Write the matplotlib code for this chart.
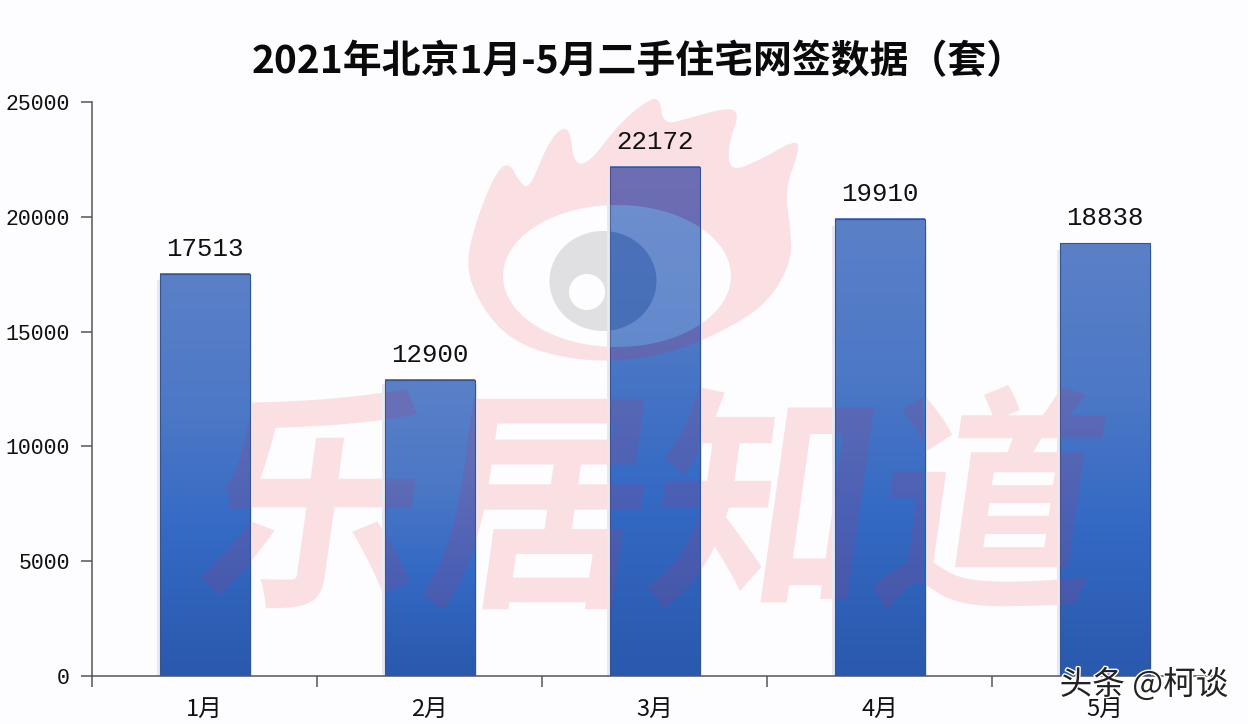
import numpy as np
import matplotlib
matplotlib.use("Agg")
import matplotlib.pyplot as plt
from matplotlib.colors import LinearSegmentedColormap
from matplotlib.font_manager import FontProperties
from matplotlib.patches import Polygon, Ellipse, Circle, PathPatch
from matplotlib.path import Path
from matplotlib.textpath import TextPath
from matplotlib.transforms import Affine2D
import matplotlib.patheffects as pe

months = ["1月", "2月", "3月", "4月", "5月"]
values = [17513, 12900, 22172, 19910, 18838]
y_ticks = [0, 5000, 10000, 15000, 20000, 25000]
title = "2021年北京1月-5月二手住宅网签数据（套）"

W, H = 1248, 724
CJK = ["Noto Sans CJK SC", "DejaVu Sans"]
MONO = "Liberation Mono"
BG = "#fdfcfe"
PINK = "#fae0e3"
TINT = "#a83a78"

fig = plt.figure(figsize=(W / 100, H / 100), dpi=100, facecolor=BG)
ax = fig.add_axes([92 / W, 1 - 676 / H, 1125 / W, 574 / H], facecolor="none")
px = Affine2D().scale(1 / W, -1 / H).translate(0, 1) + fig.transFigure

# ---- logo outline (watermark artwork, in picture pixels)
flame = np.array([(465, 265), (478, 215), (497, 170), (510, 163), (518, 180), (529, 190), (545, 150),
                  (558, 130), (570, 128), (574, 165), (590, 162), (618, 125), (645, 102), (660, 97),
                  (663, 125), (690, 118), (725, 108), (740, 112), (728, 145), (730, 172), (760, 160),
                  (795, 140), (800, 148), (785, 190), (790, 225), (792, 260), (770, 300), (735, 325),
                  (680, 350), (620, 362), (560, 358), (510, 340), (480, 305)], float)
for _ in range(2):
    nxt = np.roll(flame, -1, axis=0)
    flame = np.column_stack([0.75 * flame + 0.25 * nxt, 0.25 * flame + 0.75 * nxt]).reshape(-1, 2)
t = np.linspace(2 * np.pi, 0, 90)
eye = np.column_stack([617 + 114 * np.cos(t), 276 + 71 * np.sin(t)])
verts = np.vstack([flame, flame[:1], eye])
codes = ([Path.MOVETO] + [Path.LINETO] * (len(flame) - 1) + [Path.CLOSEPOLY]
         + [Path.MOVETO] + [Path.LINETO] * (len(eye) - 1))
ring = Path(verts, codes)

ax.add_patch(PathPatch(ring, fc=PINK, ec="none", transform=px, zorder=0.5, clip_on=False))
ax.add_patch(Ellipse((603, 281), 107, 100, fc="#e0e0e3", ec="none", transform=px, zorder=0.7, clip_on=False))
ax.add_patch(Circle((587, 292), 18, fc=BG, ec="none", transform=px, zorder=0.8, clip_on=False))

# ---- slanted word watermark, fitted to its box in the picture
tp = TextPath((0, 0), "乐居知道", size=100,
              prop=FontProperties(family="Noto Sans CJK SC", weight="bold"))
bb = tp.get_extents()
word_tf = (Affine2D().translate(-bb.x0, -bb.y0).scale(888 / bb.width, 225 / bb.height)
           .skew_deg(8, 0).translate(195, -610).scale(1, -1))
word = word_tf.transform_path(tp)
ax.add_patch(PathPatch(word, fc=PINK, ec="none", transform=px, zorder=0.4, clip_on=False))

# ---- bars
x = np.arange(len(months))
bar_w = 0.4
ax.bar(x, np.array(values) * 0.985, width=bar_w + 0.024, color="#e8e9f4", zorder=1.5)
grad = LinearSegmentedColormap.from_list(
    "bar", [(0, "#5b80c8"), (0.35, "#4c78c6"), (0.65, "#3469c4"), (1, "#2a59ad")])
g = np.linspace(0, 1, 256).reshape(-1, 1)
for xi, v in zip(x, values):
    ax.imshow(g, cmap=grad, aspect="auto", origin="upper",
              extent=(xi - bar_w / 2, xi + bar_w / 2, 0, v), zorder=2, interpolation="bilinear")
bars = ax.bar(x, values, width=bar_w, fc="none", ec="#34558f", lw=0.8, zorder=2.2)

# ---- axes limits are needed before the clip region is used
ax.set_xlim(-0.5, 4.5)
ax.set_ylim(0, 25000)

# ---- watermark showing through the bars only
bar_clip = Path.make_compound_path(*[b.get_path().transformed(b.get_patch_transform()) for b in bars])
overlays = [
    PathPatch(word, fc=TINT, ec="none", alpha=0.2, transform=px, zorder=2.4),
    PathPatch(ring, fc=TINT, ec="none", alpha=0.25, transform=px, zorder=2.5),
    Polygon(eye, closed=True, fc="white", ec="none", alpha=0.13, transform=px, zorder=2.6),
    Ellipse((603, 281), 107, 100, fc="#24509f", ec="none", alpha=0.45, transform=px, zorder=2.7),
]
for p in overlays:
    ax.add_patch(p)
    p.set_clip_path(bar_clip, ax.transData)

# ---- value labels
for xi, v in zip(x, values):
    ax.annotate(str(v), (xi, v), xytext=(0, 13), textcoords="offset pixels", ha="center",
                va="bottom", family=MONO, fontsize=18.5, color="#111111", zorder=4)

# ---- axes
ax.set_yticks(y_ticks)
ax.set_xticks(np.arange(-0.5, 5, 1))
ax.set_xticklabels([])
ax.set_xticks(x, months, minor=True)
ax.tick_params(axis="x", which="minor", length=0, pad=16, labelsize=17)
ax.tick_params(axis="x", which="major", length=8, width=1.1, color="#555555", direction="out")
ax.tick_params(axis="y", length=8, width=1.1, color="#555555", pad=8, labelsize=15.5)
for lab in ax.get_xticklabels(minor=True):
    lab.set_family(CJK)
    lab.set_color("#111111")
for lab in ax.get_yticklabels():
    lab.set_family(MONO)
    lab.set_color("#111111")
for s in ("top", "right"):
    ax.spines[s].set_visible(False)
for s in ("left", "bottom"):
    ax.spines[s].set_color("#555555")
    ax.spines[s].set_linewidth(1.1)
    ax.spines[s].set_zorder(3)

# ---- title and corner mark
fig.text(252 / W, 1 - 62 / H, title, ha="left", va="center", family=CJK, fontsize=28,
         fontweight="bold", color="#0a0a0a")
fig.text(1144 / W, 1 - 685 / H, "头条 @柯谈", ha="center", va="center", family=CJK, fontsize=23.5,
         color="#222222", zorder=10,
         path_effects=[pe.withStroke(linewidth=2, foreground="white")])

fig.savefig("out.png", dpi=100, facecolor=BG)
